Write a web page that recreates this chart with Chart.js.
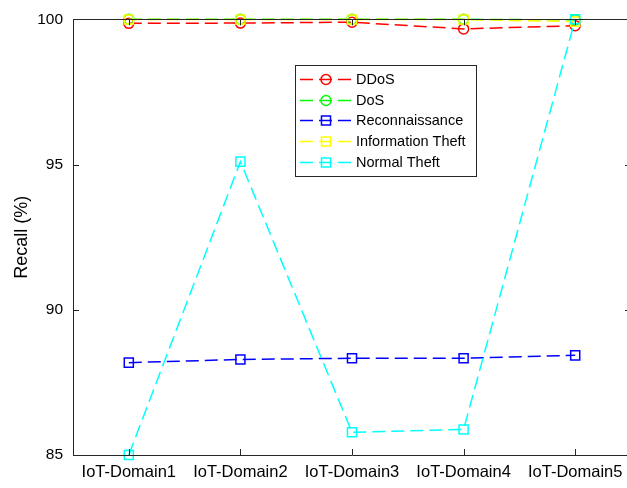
<!DOCTYPE html>
<html>
<head>
<meta charset="utf-8">
<script src="https://cdn.jsdelivr.net/npm/chart.js@4/dist/chart.umd.min.js"></script>
<style>
  html, body { margin: 0; padding: 0; overflow: hidden; background: #ffffff; }
  #wrap { width: 640px; height: 488px; }
</style>
</head>
<body>
<div id="wrap"><canvas id="c" width="640" height="488"></canvas></div>
<script>
// Recall per domain for each traffic class
const domains = ['IoT-Domain1', 'IoT-Domain2', 'IoT-Domain3', 'IoT-Domain4', 'IoT-Domain5'];
const ddos = [99.86, 99.87, 99.90, 99.67, 99.78];
const dos = [100, 100, 100, 100, 99.98];
const reconnaissance = [88.18, 88.29, 88.33, 88.33, 88.43];
const informationTheft = [99.99, 99.99, 99.99, 99.99, 99.92];
const normalTheft = [85.0, 95.10, 85.78, 85.88, 100];
const yTicks = [85, 90, 95, 100];

const FONT = '"Liberation Sans", Arial, Helvetica, sans-serif';
const DASH = [13, 6];

function series(label, data, color, style, radius, order) {
  return {
    label, data,
    borderColor: color,
    backgroundColor: 'rgba(0,0,0,0)',
    borderWidth: 1.5,
    borderDash: DASH,
    pointStyle: style,
    pointRadius: radius,
    pointHoverRadius: radius,
    pointBorderColor: color,
    pointBackgroundColor: 'rgba(0,0,0,0)',
    pointBorderWidth: 1.5,
    tension: 0,
    clip: false,
    order
  };
}

// Box around the plot, inward tick marks on all four sides, and the legend panel
const boxPlugin = {
  id: 'boxPlugin',
  afterDraw(chart) {
    const ctx = chart.ctx;
    const a = chart.chartArea;
    const xs = chart.scales.x, ys = chart.scales.y;
    const tl = 6;
    ctx.save();
    ctx.strokeStyle = '#262626';
    ctx.lineWidth = 1;
    ctx.setLineDash([]);
    ctx.beginPath();
    ctx.rect(Math.round(a.left) + 0.5, Math.round(a.top) + 0.5, Math.round(a.right - a.left), Math.round(a.bottom - a.top));
    ctx.stroke();
    ctx.beginPath();
    yTicks.forEach(v => {
      const y = Math.round(ys.getPixelForValue(v)) + 0.5;
      ctx.moveTo(a.left, y); ctx.lineTo(a.left + tl, y);
      ctx.moveTo(a.right, y); ctx.lineTo(a.right - tl, y);
    });
    domains.forEach((d, i) => {
      const x = Math.round(xs.getPixelForValue(i)) + 0.5;
      ctx.moveTo(x, a.bottom); ctx.lineTo(x, a.bottom - tl);
      ctx.moveTo(x, a.top); ctx.lineTo(x, a.top + tl);
    });
    ctx.stroke();

    // legend panel
    const lx = 295.5, ly = 65.5, lw = 181, lh = 111;
    ctx.fillStyle = '#ffffff';
    ctx.fillRect(lx, ly, lw, lh);
    ctx.strokeStyle = '#262626';
    ctx.strokeRect(lx, ly, lw, lh);
    ctx.font = '14.5px ' + FONT;
    ctx.textBaseline = 'middle';
    ctx.textAlign = 'left';
    chart.data.datasets.forEach((ds, i) => {
      const y = Math.round(79 + i * 20.7) + 0.5;
      ctx.strokeStyle = ds.borderColor;
      ctx.lineWidth = 1.5;
      ctx.setLineDash(DASH);
      ctx.beginPath();
      ctx.moveTo(300, y); ctx.lineTo(351, y);
      ctx.stroke();
      ctx.setLineDash([]);
      ctx.fillStyle = 'rgba(0,0,0,0)';
      Chart.helpers.drawPoint(ctx, {
        pointStyle: ds.pointStyle, radius: ds.pointRadius, rotation: 0, borderWidth: 1.5
      }, 326, y);
      ctx.fillStyle = '#000000';
      ctx.fillText(ds.label, 356, y);
    });
    ctx.restore();
  }
};

new Chart(document.getElementById('c'), {
  type: 'line',
  data: {
    labels: domains,
    datasets: [
      series('DDoS', ddos, '#ff0000', 'circle', 5, 5),
      series('DoS', dos, '#00ff00', 'circle', 5, 4),
      series('Reconnaissance', reconnaissance, '#0000ff', 'rect', 6.4, 3),
      series('Information Theft', informationTheft, '#ffff00', 'rect', 6.4, 2),
      series('Normal Theft', normalTheft, '#00ffff', 'rect', 6.4, 1)
    ]
  },
  options: {
    responsive: false,
    animation: false,
    layout: { padding: { top: 17, right: 9, left: 0, bottom: 0 } },
    plugins: { legend: { display: false }, tooltip: { enabled: false } },
    scales: {
      x: {
        type: 'category',
        offset: true,
        grid: { display: false, drawTicks: false },
        border: { display: false },
        ticks: { color: '#000000', font: { family: FONT, size: 16.5 }, padding: 8, maxRotation: 0, autoSkip: false },
        afterFit(scale) { scale.height = 33; }
      },
      y: {
        min: 85, max: 100,
        grid: { display: false, drawTicks: false },
        border: { display: false },
        afterBuildTicks(scale) { scale.ticks = yTicks.map(v => ({ value: v })); },
        ticks: { color: '#000000', font: { family: FONT, size: 15.5 }, padding: 10 },
        title: { display: true, text: 'Recall (%)', color: '#000000', font: { family: FONT, size: 18 }, padding: { top: 11, bottom: 0 } },
        afterFit(scale) { scale.width = 73; }
      }
    }
  },
  plugins: [boxPlugin]
});
</script>
</body>
</html>
